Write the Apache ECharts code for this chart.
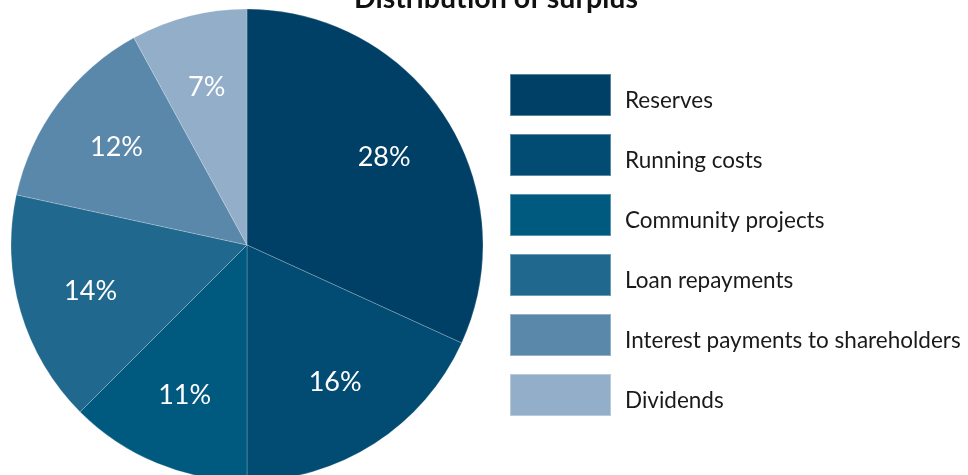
<!DOCTYPE html>
<html>
<head>
<meta charset="utf-8">
<script src="https://cdn.jsdelivr.net/npm/echarts@6/dist/echarts.min.js"></script>
<style>
  html, body { margin: 0; padding: 0; background: #ffffff; }
  #chart { width: 968px; height: 475px; }
</style>
</head>
<body>
<div id="chart"></div>
<script>
// Shares of the surplus, in per cent
const categories = [
  'Reserves',
  'Running costs',
  'Community projects',
  'Loan repayments',
  'Interest payments to shareholders',
  'Dividends'
];
const shares = [28, 16, 11, 14, 12, 7];
const colors = ['#003f66', '#024c73', '#005a80', '#20688e', '#5a88aa', '#92aec8'];

const FONT = 'Lato, "Open Sans", sans-serif';

const pieData = categories.map((name, i) => ({
  name: name,
  value: shares[i],
  itemStyle: { color: colors[i] }
}));

const chart = echarts.init(document.getElementById('chart'), null, { renderer: 'canvas' });

chart.setOption({
  animation: false,
  backgroundColor: '#ffffff',
  title: {
    text: 'Distribution of surplus',
    left: 491,
    textAlign: 'center',
    top: -21,
    textStyle: { fontFamily: FONT, fontWeight: 'bold', fontSize: 28.5, color: '#111111' }
  },
  legend: {
    orient: 'vertical',
    left: 509,
    top: 73,
    padding: 0,
    itemWidth: 101,
    itemHeight: 42,
    itemGap: 16,
    icon: 'rect',
    selectedMode: false,
    data: categories,
    // legend names sit a little below the middle of their swatches
    formatter: name => '{t|' + name + '}',
    textStyle: {
      fontFamily: FONT,
      fontSize: 22,
      color: '#1a1a1a',
      padding: [0, 0, 0, 9],
      rich: {
        t: {
          fontFamily: FONT,
          fontSize: 22.5,
          color: '#1a1a1a',
          padding: [12, 0, 0, 0],
          verticalAlign: 'bottom'
        }
      }
    }
  },
  series: [
    {
      // the pie itself
      type: 'pie',
      center: [247, 245],
      radius: [0, 236],
      startAngle: 90,
      clockwise: true,
      silent: true,
      label: { show: false },
      labelLine: { show: false },
      itemStyle: { borderColor: 'rgba(255,255,255,0.35)', borderWidth: 0.6 },
      data: pieData
    },
    {
      // transparent ring carrying the percentage labels further out than mid-radius
      type: 'pie',
      center: [247, 245],
      radius: [100, 220],
      startAngle: 90,
      clockwise: true,
      silent: true,
      legendHoverLink: false,
      itemStyle: { color: 'rgba(0,0,0,0)', borderWidth: 0 },
      label: {
        show: true,
        position: 'inside',
        formatter: p => p.value + '%',
        fontFamily: FONT,
        fontSize: 27,
        color: '#ffffff'
      },
      labelLine: { show: false },
      data: categories.map((name, i) => ({ name: name + ' ', value: shares[i] }))
    }
  ]
});
</script>
</body>
</html>
